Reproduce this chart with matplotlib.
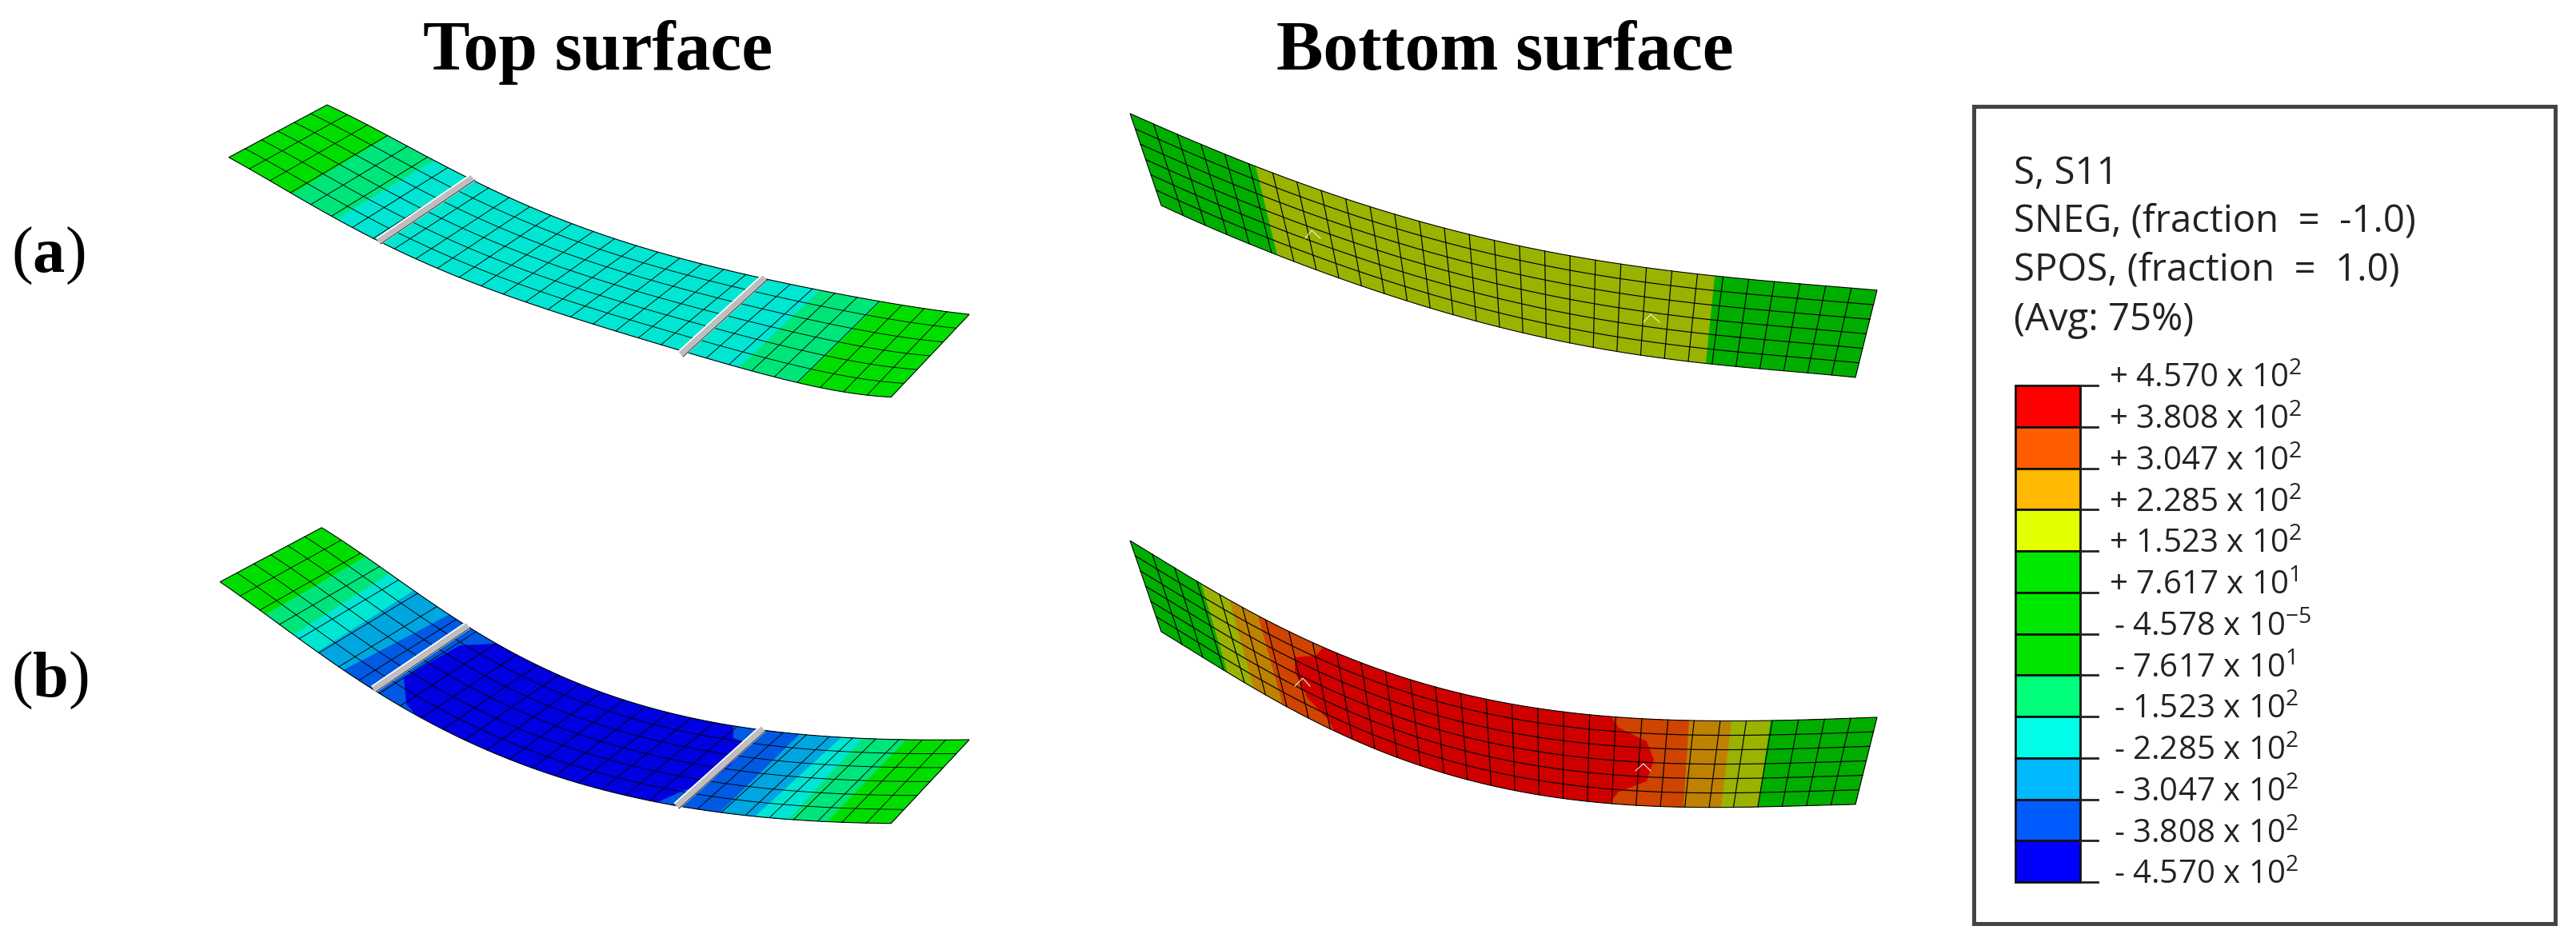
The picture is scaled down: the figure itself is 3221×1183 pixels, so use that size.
import matplotlib
matplotlib.use("Agg")
import matplotlib.pyplot as plt
import numpy as np
from matplotlib.patches import Polygon, Rectangle

plt.rcParams['mathtext.fontset'] = 'custom'
plt.rcParams['mathtext.rm'] = 'Open Sans'
plt.rcParams['mathtext.default'] = 'rm'

# colours of the contour levels as they show on the shaded plate
GREEN_T = '#00DE00'
SPRING_T = '#00E57A'
CYAN_T = '#00E6D2'
SKY_T = '#00A6E0'
MID_T = '#005AE2'
DEEP_T = '#0000E0'
GREEN_B = '#00AE00'
OLIVE_B = '#9AB300'
ORANGE_B = '#BE8200'
BURNT_B = '#CE4400'
RED_B = '#D00000'

# plate outlines, pixel positions
a_top_upper = [(409, 131), (542, 202), (591, 223), (690, 270), (792, 307), (888, 333), (955, 347), (1025, 363), (1098, 377), (1212, 393)]
a_top_lower = [(286, 197), (365, 242), (422, 273), (473, 302), (569, 347), (658, 377), (760, 407), (850, 442), (923, 460), (1000, 477), (1114, 497)]
a_bot_upper = [(1413, 142), (1571, 208), (1635, 233), (1747, 268), (1871, 302), (1967, 320), (2066, 335), (2142, 346), (2235, 353), (2347, 363)]
a_bot_lower = [(1452, 257), (1527, 290), (1597, 319), (1680, 350), (1788, 385), (1938, 423), (2031, 442), (2133, 454), (2222, 463), (2320, 472)]
b_top_upper = [(402, 660), (457, 695), (515, 738), (585, 783), (620, 805), (690, 840), (760, 868), (856, 897), (952, 912), (1047, 922), (1212, 925)]
b_top_lower = [(275, 728), (333, 768), (397, 815), (470, 865), (524, 897), (601, 935), (697, 968), (811, 1003), (913, 1018), (1009, 1025), (1114, 1030)]
b_bot_upper = [(1413, 676), (1501, 730), (1571, 768), (1651, 808), (1731, 840), (1827, 867), (1922, 885), (2018, 897), (2114, 901), (2209, 901), (2347, 897)]
b_bot_lower = [(1452, 790), (1533, 840), (1600, 878), (1673, 917), (1763, 953), (1865, 982), (1986, 1002), (2056, 1008), (2152, 1010), (2222, 1008), (2320, 1006)]

# contour bands: colour and the line where it begins
a_top_bands = [
    (SPRING_T, [(485, 170), (366, 242)]),
    (CYAN_T, [(542, 201), (422, 273)]),
    (SPRING_T, [(1025, 363), (923, 460)]),
    (GREEN_T, [(1102, 377), (1000, 477)]),
]
a_bot_bands = [
    (OLIVE_B, [(1570, 208), (1597, 319)]),
    (GREEN_B, [(2144, 346), (2133, 454)]),
]
b_top_bands = [
    (SPRING_T, [(455, 697), (333, 768)]),
    (CYAN_T, [(486, 718), (365, 795)]),
    (SKY_T, [(515, 740), (397, 815)]),
    (MID_T, [(563, 768), (429, 838)]),
    (DEEP_T, [(620, 805), (575, 807), (531, 832), (505, 848), (508, 880), (520, 895)]),
    (MID_T, [(917, 908), (917, 923), (936, 930), (913, 957), (888, 977), (856, 988), (818, 1005)]),
    (SKY_T, [(1000, 918), (901, 1015)]),
    (CYAN_T, [(1051, 923), (945, 1020)]),
    (SPRING_T, [(1079, 923), (987, 1023)]),
    (GREEN_T, [(1134, 924), (1035, 1027)]),
]
b_bot_bands = [
    (OLIVE_B, [(1502, 730), (1535, 842)]),
    (ORANGE_B, [(1538, 753), (1568, 862)]),
    (BURNT_B, [(1573, 770), (1603, 878)]),
    (RED_B, [(1654, 810), (1645, 820), (1619, 822), (1619, 840), (1635, 873), (1661, 900), (1670, 917)]),
    (BURNT_B, [(2015, 896), (2024, 910), (2059, 927), (2068, 950), (2059, 977), (2024, 990), (2012, 1005)]),
    (ORANGE_B, [(2112, 902), (2105, 1008)]),
    (OLIVE_B, [(2165, 902), (2152, 1010)]),
    (GREEN_B, [(2214, 901), (2198, 1009)]),
]

# grey slits on the top surface
a_slits = [[(591, 222), (473, 302)], [(956, 347), (851, 443)]]
b_slits = [[(585, 782), (467, 862)], [(954, 911), (846, 1008)]]

# small white marks on the bottom surface
white_marks = [
    [(1632, 298), (1640, 288), (1651, 298)],
    [(2055, 403), (2064, 393), (2075, 403)],
    [(1619, 858), (1629, 848), (1638, 858)],
    [(2045, 964), (2055, 955), (2064, 964)],
]

legend_lines = ['S, S11', 'SNEG, (fraction  =  -1.0)', 'SPOS, (fraction  =  1.0)', '(Avg: 75%)']
legend_colors = ['#FF0000', '#FF5C00', '#FFB900', '#E3FF00', '#00E800', '#00E800', '#00E400',
                 '#00FF7A', '#00FFE8', '#00B9FF', '#005CFF', '#0000FF']
legend_labels = ['+ 4.570 x 10$^{2}$', '+ 3.808 x 10$^{2}$', '+ 3.047 x 10$^{2}$', '+ 2.285 x 10$^{2}$',
                 '+ 1.523 x 10$^{2}$', '+ 7.617 x 10$^{1}$', '- 4.578 x 10$^{-5}$', '- 7.617 x 10$^{1}$',
                 '- 1.523 x 10$^{2}$', '- 2.285 x 10$^{2}$', '- 3.047 x 10$^{2}$', '- 3.808 x 10$^{2}$',
                 '- 4.570 x 10$^{2}$']

fig = plt.figure(figsize=(32.21, 11.83), dpi=100)
ax = fig.add_axes([0, 0, 1, 1])
ax.set_xlim(0, 3221)
ax.set_ylim(1183, 0)
ax.axis('off')


def along(points, u):
    # smooth curve through the read points, so the plate edge has no kinks
    pts = np.array(points, dtype=float)
    s = np.r_[0, np.cumsum(np.hypot(*np.diff(pts, axis=0).T))]
    s = s / s[-1]
    return np.c_[np.polyval(np.polyfit(s, pts[:, 0], 5), u), np.polyval(np.polyfit(s, pts[:, 1], 5), u)]


def draw_plate(upper, lower, first, bands, ncells, lw):
    u = np.linspace(0, 1, 300)
    tp = along(upper, u)
    bt = along(lower, u)
    outline = np.vstack([tp, bt[::-1]])
    clip = Polygon(outline, closed=True, transform=ax.transData, fc='none', ec='none')
    ax.add_patch(clip)
    ax.add_patch(Polygon(outline, closed=True, fc=first, ec='none', zorder=2))
    for color, line in bands:
        # extend the band line past both edges, the clip trims it
        line = np.array(line, dtype=float)
        start = line[0] + (line[0] - line[1]) * 12 / np.hypot(*(line[0] - line[1]))
        end = line[-1] + (line[-1] - line[-2]) * 12 / np.hypot(*(line[-1] - line[-2]))
        far = 3221 if line[0, 0] > 1300 else 1300
        poly = np.vstack([start, line, end, [end[0], end[1] + 500], [far, end[1] + 500], [far, start[1] - 500], [start[0], start[1] - 500]])
        patch = Polygon(poly, closed=True, fc=color, ec='none', zorder=3)
        ax.add_patch(patch)
        patch.set_clip_path(clip)
    # mesh
    for k in range(1, 6):
        line = tp + (bt - tp) * k / 6
        ax.plot(line[:, 0], line[:, 1], color='black', lw=lw, zorder=4)
    for uc in np.linspace(0, 1, ncells + 1)[1:-1]:
        a = along(upper, np.array([uc]))[0]
        b = along(lower, np.array([uc]))[0]
        ax.plot([a[0], b[0]], [a[1], b[1]], color='black', lw=lw, zorder=4)
    ax.add_patch(Polygon(outline, closed=True, fc='none', ec='black', lw=0.8, zorder=5))


def draw_slit(line):
    xs, ys = zip(*line)
    ax.plot(xs, ys, color='white', lw=7.5, solid_capstyle='butt', zorder=6)
    ax.plot(xs, ys, color='#BEBEBE', lw=5, solid_capstyle='butt', zorder=7)
    ax.plot(np.array(xs) + 3, np.array(ys) + 3, color='#202020', lw=0.7, zorder=8)


draw_plate(a_top_upper, a_top_lower, GREEN_T, a_top_bands, 30, 0.65)
draw_plate(a_bot_upper, a_bot_lower, GREEN_B, a_bot_bands, 30, 0.85)
draw_plate(b_top_upper, b_top_lower, GREEN_T, b_top_bands, 30, 0.65)
draw_plate(b_bot_upper, b_bot_lower, GREEN_B, b_bot_bands, 30, 0.85)
for slit in a_slits + b_slits:
    draw_slit(slit)
for mark in white_marks:
    xs, ys = zip(*mark)
    ax.plot(xs, ys, color='white', lw=0.7, zorder=8)

# headings
ax.text(748, 65, 'Top surface', family='Liberation Serif', weight='bold', fontsize=63, ha='center', va='center', color='black')
ax.text(1882, 65, 'Bottom surface', family='Liberation Serif', weight='bold', fontsize=63, ha='center', va='center', color='black')
for label, y in [('a', 320), ('b', 851)]:
    t0 = ax.text(14, y, '(', family='Liberation Serif', fontsize=58, va='center', color='black')
    t1 = ax.annotate(label, xy=(1, 0), xycoords=t0, va='bottom', family='Liberation Serif', weight='bold', fontsize=58)
    ax.annotate(')', xy=(1, 0), xycoords=t1, va='bottom', family='Liberation Serif', fontsize=58)

# legend box
ax.add_patch(Rectangle((2468, 133), 727, 1022, fc='white', ec='#444444', lw=3.6, zorder=1))
for line, y in zip(legend_lines, [217, 277, 338, 400]):
    ax.text(2518, y, line, family='Open Sans', fontsize=34, va='center', color='#222222')

tick_y = 482 + 51.75 * np.arange(13)
for i, color in enumerate(legend_colors):
    ax.add_patch(Rectangle((2520, tick_y[i]), 81, tick_y[i + 1] - tick_y[i], fc=color, ec='#111111', lw=2, zorder=2))
for y, label in zip(tick_y, legend_labels):
    ax.plot([2601, 2623], [y, y], color='#222222', lw=2, zorder=2)
    x = 2637 if label[0] == '+' else 2643
    ax.text(x, y - 8, label, family='Open Sans', fontsize=29, va='center', color='#222222')

fig.savefig('out.png', dpi=100)
